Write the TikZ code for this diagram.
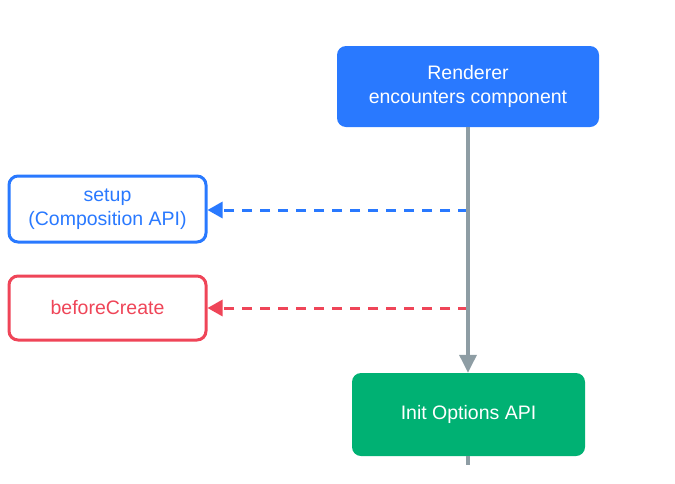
\documentclass[tikz,border=0pt]{standalone}
\usepackage{fontspec}
\setmainfont{Liberation Sans}
\usetikzlibrary{arrows.meta}
\definecolor{vblue}{HTML}{2979FF}
\definecolor{vred}{HTML}{EF4558}
\definecolor{vgreen}{HTML}{00B173}
\definecolor{vgray}{HTML}{8E9DA4}
\begin{document}
\begin{tikzpicture}[x=1pt,y=-1pt,
  txt/.style={font=\fontsize{19.5}{24}\selectfont, align=center, inner sep=0pt},
  filledbox/.style={txt, rounded corners=9pt, text=white},
  outlinebox/.style={txt, rounded corners=9pt, line width=3pt, fill=white},
  mainline/.style={vgray, line width=3.4pt},
  hook/.style={line width=3pt, dash pattern=on 10pt off 8pt, -{Triangle[length=15pt,width=16pt]}}
]
\useasboundingbox (0,0) rectangle (675,483);
\node[filledbox, fill=vblue, minimum width=262pt, minimum height=81pt] (rend) at (468,86.5) {Renderer\\encounters component};
\node[outlinebox, draw=vblue, text=vblue, minimum width=197pt, minimum height=66pt] (setup) at (107.5,209) {setup\\(Composition API)};
\node[outlinebox, draw=vred, text=vred, minimum width=197pt, minimum height=64pt] (bc) at (107.5,308) {beforeCreate};
\node[filledbox, fill=vgreen, minimum width=233pt, minimum height=83pt] (init) at (468.5,414.5) {Init Options API};
\coordinate (s) at (468,210);
\coordinate (b) at (468,308);
\coordinate (e) at (468,465);
\draw[hook, vblue] (s) -- (setup.east |- s);
\draw[hook, vred] (b) -- (bc.east |- b);
\draw[mainline, -{Triangle[length=18pt,width=17pt]}] (rend.south -| s) -- (init.north -| s);
\draw[mainline] (init.south -| s) -- (e);
\end{tikzpicture}
\end{document}
